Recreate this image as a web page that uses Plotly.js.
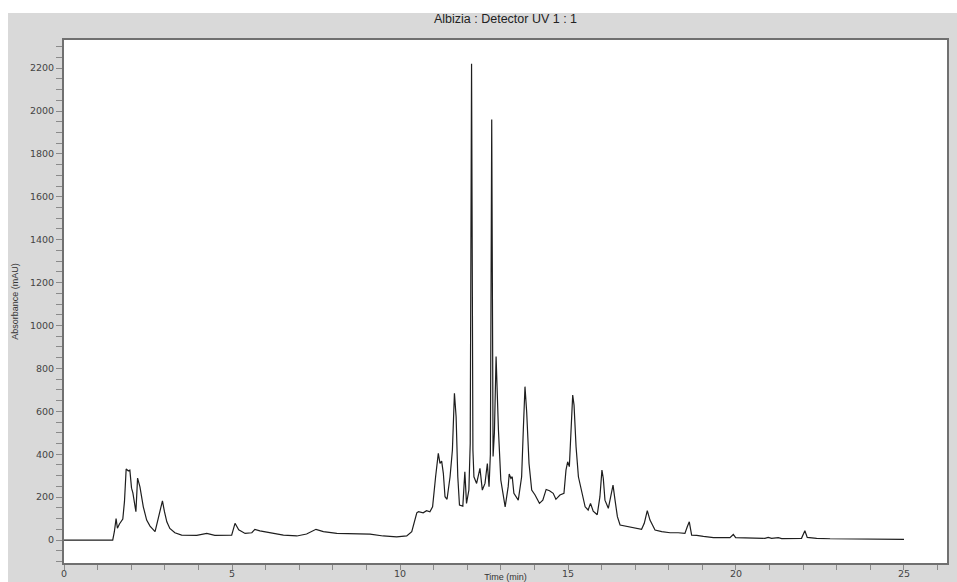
<!DOCTYPE html>
<html>
<head>
<meta charset="utf-8">
<script src="https://cdn.plot.ly/plotly-3.0.1.min.js"></script>
<style>
  html, body { margin: 0; padding: 0; background: #ffffff; }
  #chart { width: 957px; height: 582px; }
</style>
</head>
<body>
<div id="chart"></div>
<script>
// Retention time (min)
const timeMin = [
  0, 1.45, 1.50, 1.55, 1.59, 1.65, 1.75, 1.80, 1.85, 1.91, 1.96, 2.01, 2.05, 2.14, 2.19, 2.26,
  2.36, 2.46, 2.56, 2.71, 2.78, 2.86, 2.93, 2.99, 3.06, 3.15, 3.30, 3.50, 3.95, 4.25, 4.49,
  4.99, 5.09, 5.20, 5.39, 5.59, 5.68, 5.83, 6.13, 6.53, 6.93, 7.22, 7.50, 7.72, 8.12, 8.71,
  9.11, 9.50, 9.90, 10.20, 10.35, 10.50, 10.55, 10.69, 10.79, 10.89, 10.97, 11.06, 11.14,
  11.19, 11.24, 11.29, 11.34, 11.40, 11.49, 11.56, 11.62, 11.67, 11.72, 11.77, 11.87, 11.93,
  11.98, 12.05, 12.09, 12.13, 12.17, 12.20, 12.28, 12.38, 12.45, 12.53, 12.60, 12.65, 12.69,
  12.73, 12.77, 12.81, 12.86, 12.93, 13.00, 13.13, 13.22, 13.25, 13.30, 13.34, 13.39, 13.52,
  13.62, 13.67, 13.72, 13.77, 13.84, 13.92, 14.02, 14.15, 14.25, 14.35, 14.45, 14.56, 14.64,
  14.76, 14.88, 14.94, 14.99, 15.04, 15.10, 15.14, 15.18, 15.24, 15.31, 15.41, 15.51, 15.60,
  15.67, 15.75, 15.87, 15.95, 16.01, 16.05, 16.10, 16.20, 16.27, 16.34, 16.40, 16.47, 16.55,
  16.70, 16.85, 17.04, 17.19, 17.27, 17.36, 17.44, 17.59, 17.79, 18.04, 18.28, 18.48, 18.55,
  18.61, 18.68, 18.83, 19.03, 19.33, 19.82, 19.92, 19.99, 20.40, 20.86, 20.96, 21.06, 21.26,
  21.36, 21.95, 22.05, 22.12, 22.40, 22.80, 24.00, 25.00
];
// Absorbance (mAU)
const absorbance = [
  0, 0, 40, 100, 55, 75, 98, 180, 331, 323, 326, 242, 220, 132, 289, 248,
  155, 93, 65, 39, 85, 143, 183, 132, 85, 54, 34, 23, 22, 31, 22,
  23, 78, 48, 31, 34, 50, 43, 34, 23, 19, 28, 50, 39, 31, 31,
  28, 19, 15, 19, 39, 127, 132, 127, 137, 132, 155, 295, 404,
  357, 368, 311, 202, 190, 295, 420, 684, 575, 295, 163, 158, 318,
  171, 233, 450, 2220, 420, 295, 264, 334, 233, 264, 357, 249, 400,
  1960, 390, 500, 855, 513, 280, 155, 249, 308, 288, 295, 218, 186,
  295, 513, 715, 598, 357, 233, 210, 171, 186, 236, 230, 218, 190,
  210, 218, 326, 365, 342, 513, 676, 629, 435, 295, 218, 155, 140,
  171, 135, 118, 202, 326, 288, 186, 148, 202, 256, 186, 109, 70,
  65, 59, 54, 50, 78, 137, 93, 47, 39, 34, 34, 31, 62,
  85, 23, 22, 17, 11, 11, 26, 11, 10, 8, 12, 8, 11,
  7, 8, 43, 12, 8, 6, 5, 3
];
const xTickVals = [0, 5, 10, 15, 20, 25];
const yTickVals = [0, 200, 400, 600, 800, 1000, 1200, 1400, 1600, 1800, 2000, 2200];

const tickFont = { family: 'DejaVu Sans, Liberation Sans, sans-serif', size: 9.5, color: '#444444' };

const trace = {
  x: timeMin,
  y: absorbance,
  type: 'scatter',
  mode: 'lines',
  line: { color: '#1e1e1e', width: 1.2 },
  hoverinfo: 'skip',
  showlegend: false
};

const axisCommon = {
  showgrid: false,
  zeroline: false,
  showline: true,
  mirror: true,
  linecolor: '#707070',
  linewidth: 2,
  ticks: 'outside',
  tickwidth: 1,
  tickcolor: '#8a8a8a',
  tickfont: tickFont
};

const layout = {
  width: 957,
  height: 582,
  margin: { l: 64, r: 10, t: 40, b: 19, pad: 0 },
  paper_bgcolor: '#d9d9d9',
  plot_bgcolor: '#ffffff',
  title: {
    text: 'Albizia : Detector UV 1 : 1',
    x: 0.5, xref: 'paper', xanchor: 'center',
    y: 1 - 19 / 582, yref: 'container', yanchor: 'middle',
    font: { family: 'Liberation Sans, Arial, sans-serif', size: 12.5, color: '#222222' }
  },
  xaxis: Object.assign({}, axisCommon, {
    range: [0, 26.28],
    tickmode: 'array',
    tickvals: xTickVals,
    ticktext: xTickVals.map(String),
    ticklen: 5,
    ticklabelstandoff: -4,
    minor: { dtick: 1, tick0: 0, ticks: 'outside', ticklen: 5, tickcolor: '#8a8a8a', showgrid: false },
    title: { text: 'Time (min)', standoff: 0,
      font: { family: 'Liberation Sans, Arial, sans-serif', size: 9, color: '#333333' } }
  }),
  yaxis: Object.assign({}, axisCommon, {
    range: [-107, 2331],
    tickmode: 'array',
    tickvals: yTickVals,
    ticktext: yTickVals.map(String),
    ticklen: 6,
    minor: { dtick: 50, tick0: 0, ticks: 'outside', ticklen: 6, tickcolor: '#8a8a8a', showgrid: false },
    title: { text: 'Absorbance (mAU)', standoff: 10,
      font: { family: 'Liberation Sans Narrow, Arial Narrow, Liberation Sans, sans-serif', size: 9, color: '#333333' } }
  }),
  shapes: [
    { type: 'rect', xref: 'paper', yref: 'paper', x0: -0.08, x1: 1.02, y0: 1.0516, y1: 1.09,
      fillcolor: '#ffffff', line: { width: 0 }, layer: 'below' },
    { type: 'rect', xref: 'paper', yref: 'paper', x0: -0.08, x1: -0.0634, y0: -0.05, y1: 1.09,
      fillcolor: '#ffffff', line: { width: 0 }, layer: 'below' }
  ]
};

Plotly.newPlot('chart', [trace], layout, { staticPlot: true, displayModeBar: false });
</script>
</body>
</html>
